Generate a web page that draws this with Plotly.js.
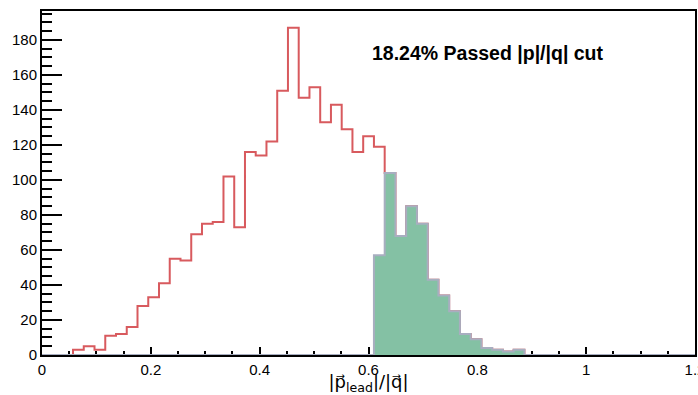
<!DOCTYPE html>
<html>
<head>
<meta charset="utf-8">
<script src="https://cdn.plot.ly/plotly-3.0.1.min.js"></script>
<style>html,body{margin:0;padding:0;background:#fff;}#chart{width:698px;height:395px;}</style>
</head>
<body>
<div id="chart"></div>
<script>
// Histogram binning (regular bins)
const binLow = 0.057;
const binWidth = 0.01975;

// All events (red outline), bins starting at binLow
const allCounts = [3, 5, 3, 11, 12, 16, 28, 33, 41, 55, 54, 69, 75, 76, 102, 73, 116, 114, 122, 151,
                   187, 147, 153, 133, 143, 129, 116, 125, 119, 104, 68, 85, 75, 43, 34, 25, 12, 9, 4, 3, 2, 3];
// Passed events (green filled), first passed bin index
const passedStartBin = 28;
const passedCounts = [57, 104, 68, 85, 75, 43, 34, 25, 12, 9, 4, 3, 2, 3];

const annotationText = "18.24% Passed |p|/|q| cut";
const xTitle = "|p\u20D7<sub>lead</sub>|/|q\u20D7|";
const xRange = [0, 1.2];
const xTickVals = [0, 0.2, 0.4, 0.6, 0.8, 1, 1.2];
const xTickText = ['0', '0.2', '0.4', '0.6', '0.8', '1', '1.2'];

function stepPath(counts, startBin) {
  const x = [xRange[0]], y = [0];
  for (let i = 0; i < counts.length; i++) {
    x.push(binLow + (startBin + i) * binWidth);
    y.push(counts[i]);
  }
  x.push(binLow + (startBin + counts.length) * binWidth); y.push(0);
  x.push(xRange[1]); y.push(0);
  return {x, y};
}

const red = stepPath(allCounts, 0);
const green = stepPath(passedCounts, passedStartBin);

const traces = [
  {x: red.x, y: red.y, type: 'scatter', mode: 'lines',
   line: {shape: 'hv', color: '#d85a5e', width: 2}, hoverinfo: 'skip'},
  {x: green.x, y: green.y, type: 'scatter', mode: 'lines',
   line: {shape: 'hv', color: '#a8aec0', width: 2}, fill: 'tozeroy', fillcolor: '#84c1a4', hoverinfo: 'skip'}
];

const tickFont = {family: 'Liberation Sans, Arial, Helvetica, sans-serif', size: 15, color: '#000'};

const layout = {
  width: 698, height: 395,
  margin: {l: 42, r: 3, t: 11, b: 40},
  paper_bgcolor: '#fff', plot_bgcolor: '#fff',
  showlegend: false,
  xaxis: {
    range: [xRange[0], xRange[1] + 1e-6],
    tickmode: 'array', tickvals: xTickVals, ticktext: xTickText,
    ticks: 'inside', ticklen: 8, tickwidth: 2, tickcolor: '#000',
    minor: {tickmode: 'linear', tick0: 0, dtick: 0.05, ticks: 'inside', ticklen: 4, tickwidth: 2, tickcolor: '#000'},
    showline: true, linecolor: '#000', linewidth: 2, mirror: true,
    showgrid: false, zeroline: false, layer: 'below traces',
    ticklabeloverflow: 'allow',
    tickfont: tickFont,
    title: {text: xTitle, font: {family: 'DejaVu Sans, sans-serif', size: 18, color: '#000'}, standoff: 0}
  },
  yaxis: {
    range: [0, 196.5], tick0: 0, dtick: 20,
    ticks: 'inside', ticklen: 20, tickwidth: 2, tickcolor: '#000',
    minor: {dtick: 5, ticks: 'inside', ticklen: 10, tickwidth: 2, tickcolor: '#000'},
    showline: true, linecolor: '#000', linewidth: 2, mirror: true,
    showgrid: false, zeroline: false, layer: 'below traces',
    tickfont: tickFont
  },
  annotations: [{
    text: '<b>' + annotationText + '</b>', xref: 'paper', yref: 'paper',
    x: 0.502, y: 0.877, xanchor: 'left', yanchor: 'middle', showarrow: false,
    font: {family: 'Liberation Sans, Arial, Helvetica, sans-serif', size: 19.5, color: '#000'}
  }]
};

Plotly.newPlot('chart', traces, layout, {displayModeBar: false, staticPlot: true});
</script>
</body>
</html>
